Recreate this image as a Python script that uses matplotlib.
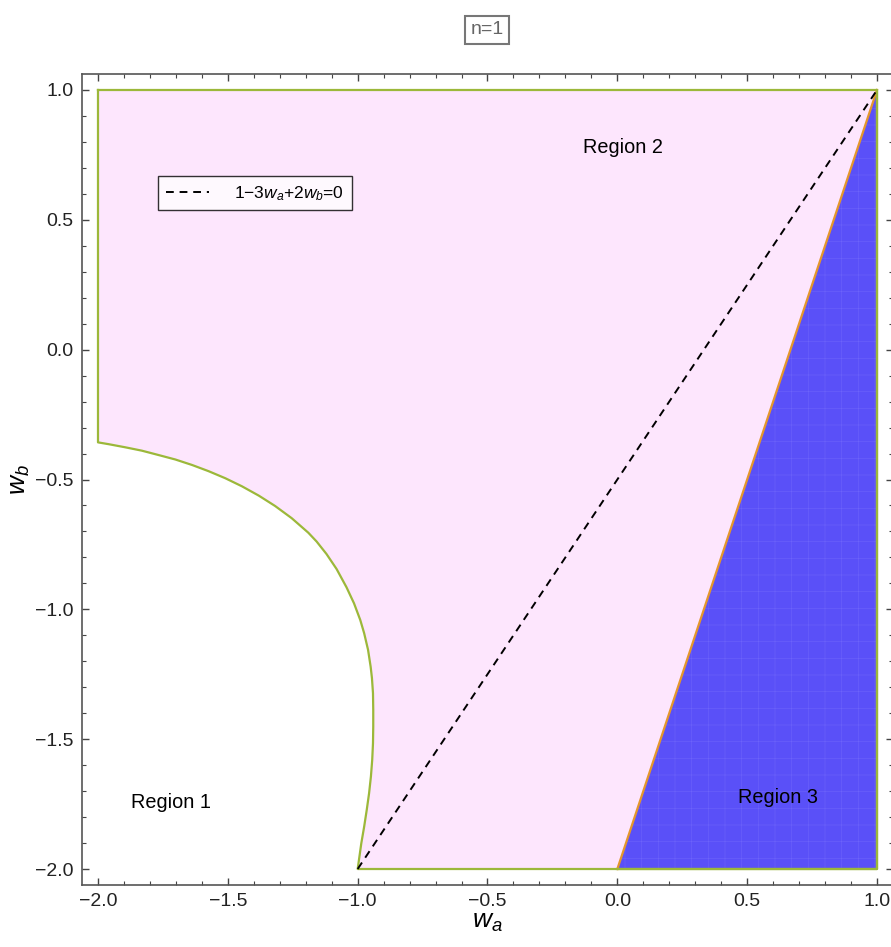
import matplotlib
matplotlib.use("Agg")
import matplotlib.pyplot as plt
from matplotlib.ticker import MultipleLocator, FuncFormatter
import numpy as np

plt.rcParams['font.family'] = ['Liberation Sans', 'DejaVu Sans']
plt.rcParams['mathtext.fontset'] = 'custom'
plt.rcParams['mathtext.rm'] = 'Liberation Sans'
plt.rcParams['mathtext.it'] = 'Liberation Sans:italic'
plt.rcParams['hatch.linewidth'] = 0.4

# boundary curve of region 1 (w_a, w_b)
curve_wa = [-2.000, -1.959, -1.895, -1.831, -1.766, -1.702, -1.638, -1.574, -1.510,
            -1.446, -1.381, -1.318, -1.254, -1.190, -1.158, -1.120, -1.081, -1.043,
            -1.014, -0.990, -0.975, -0.960, -0.950, -0.945, -0.941, -0.940, -0.940,
            -0.941, -0.944, -0.949, -0.956, -0.965, -0.975, -0.986, -0.995, -1.000]
curve_wb = [-0.357, -0.364, -0.376, -0.389, -0.406, -0.423, -0.444, -0.468, -0.495,
            -0.526, -0.562, -0.602, -0.649, -0.705, -0.739, -0.787, -0.845, -0.915,
            -0.977, -1.041, -1.092, -1.156, -1.221, -1.265, -1.323, -1.387, -1.452,
            -1.516, -1.580, -1.644, -1.708, -1.772, -1.837, -1.901, -1.965, -2.000]
# region 3 triangle
tri_wa = [0.0, 1.0, 1.0]
tri_wb = [-2.0, 1.0, -2.0]
# dashed line 1-3wa+2wb=0
line_wa = np.array([-1.0, 1.0])
line_wb = (3 * line_wa - 1) / 2

W, H = 891, 947
fig = plt.figure(figsize=(W / 100, H / 100), dpi=100)
ax = fig.add_axes([82 / W, 1 - 885 / H, 811 / W, 811 / H])

pink = '#fde6fd'
green = '#9cb83a'
blue = '#5a50f8'
orange = '#e3962c'

# Region 2 polygon
poly_x = [-2.0, 1.0, 1.0] + curve_wa[::-1] + [-2.0]
poly_y = [1.0, 1.0, -2.0] + curve_wb[::-1] + [1.0]
ax.fill(poly_x, poly_y, facecolor=pink, edgecolor='none', zorder=1)
ax.plot(poly_x, poly_y, color=green, lw=1.6, zorder=3, solid_joinstyle='round')

# Region 3
ax.fill(tri_wa, tri_wb, facecolor=blue, edgecolor='#6c63fb', hatch='+', lw=0, zorder=2)
ax.plot([tri_wa[0], tri_wa[1]], [tri_wb[0], tri_wb[1]], color=orange, lw=1.6, zorder=3)
ax.plot([1.0, 1.0, 0.0], [1.0, -2.0, -2.0], color=green, lw=1.6, zorder=3)

ax.plot(line_wa, line_wb, color='black', lw=1.4, ls=(0, (4, 3)), zorder=4,
        label=r'1$-$3$w_a$+2$w_b$=0')

pad = 0.0616
ax.set_xlim(-2 - pad, 1 + pad)
ax.set_ylim(-2 - pad, 1 + pad)

for lbl, x, y in [('Region 2', 0.0216, 0.78), ('Region 1', -1.719, -1.742), ('Region 3', 0.618, -1.726)]:
    ax.text(x, y, lbl, fontsize=14.3, ha='center', va='center', zorder=5)

leg = ax.legend(loc='upper left', bbox_to_anchor=((158 - 82) / 811, (885 - 176) / 811),
                fontsize=12.5, frameon=True, fancybox=False, edgecolor='black',
                handlelength=2.5, borderpad=0.45, handletextpad=1.45, borderaxespad=0)
leg.get_frame().set_linewidth(1.0)

ax.xaxis.set_major_locator(MultipleLocator(0.5))
ax.yaxis.set_major_locator(MultipleLocator(0.5))
ax.xaxis.set_minor_locator(MultipleLocator(0.1))
ax.yaxis.set_minor_locator(MultipleLocator(0.1))
fmt = FuncFormatter(lambda v, p: f'{v:.1f}'.replace('-', '\u2212'))
ax.xaxis.set_major_formatter(fmt)
ax.yaxis.set_major_formatter(fmt)
ax.tick_params(which='both', direction='in', top=True, right=True, color='#444444',
               labelsize=14, labelcolor='#222222')
ax.tick_params(which='major', length=5, width=1.0, pad=6)
ax.tick_params(which='minor', length=3, width=0.8)
for s in ax.spines.values():
    s.set_color('#555555')
    s.set_linewidth(1.2)

ax.set_xlabel(r'$w_a$', fontsize=19, labelpad=0)
ax.set_ylabel(r'$w_b$', fontsize=19, labelpad=2)

fig.text(487 / W, 1 - 30 / H, 'n=1', fontsize=14, color='#666666', ha='center', va='center',
         bbox=dict(boxstyle='square,pad=0.3', facecolor='white', edgecolor='#777777', lw=1.5))

fig.savefig('out.png', dpi=100)
